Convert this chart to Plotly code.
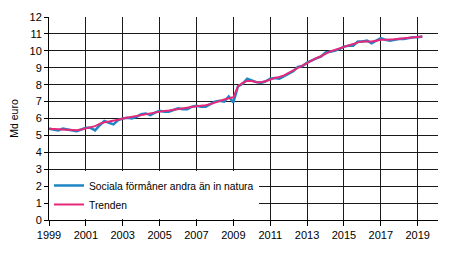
import plotly.graph_objects as go

years = list(range(1999, 2020))
series_by_year = [
    [5.40, 5.35, 5.30, 5.40],
    [5.35, 5.30, 5.25, 5.35],
    [5.45, 5.45, 5.30, 5.60],
    [5.85, 5.75, 5.65, 5.90],
    [6.00, 6.05, 6.00, 6.10],
    [6.25, 6.30, 6.20, 6.35],
    [6.45, 6.40, 6.40, 6.50],
    [6.60, 6.55, 6.55, 6.70],
    [6.75, 6.70, 6.70, 6.85],
    [7.00, 7.05, 7.00, 7.30],
    [6.95, 7.90, 8.05, 8.35],
    [8.25, 8.15, 8.10, 8.20],
    [8.35, 8.40, 8.35, 8.50],
    [8.65, 8.80, 9.05, 9.10],
    [9.30, 9.45, 9.55, 9.65],
    [9.90, 9.95, 10.00, 10.10],
    [10.25, 10.30, 10.30, 10.55],
    [10.55, 10.60, 10.45, 10.60],
    [10.75, 10.65, 10.60, 10.65],
    [10.70, 10.70, 10.75, 10.80],
    [10.80, 10.85],
]
trend_by_year = [
    [5.40, 5.38, 5.35, 5.33],
    [5.30, 5.28, 5.30, 5.35],
    [5.42, 5.48, 5.55, 5.68],
    [5.78, 5.82, 5.85, 5.92],
    [6.00, 6.05, 6.08, 6.15],
    [6.22, 6.27, 6.30, 6.37],
    [6.42, 6.45, 6.47, 6.52],
    [6.57, 6.60, 6.63, 6.68],
    [6.72, 6.73, 6.78, 6.85],
    [6.95, 7.05, 7.12, 7.20],
    [7.25, 7.90, 8.10, 8.22],
    [8.22, 8.15, 8.15, 8.20],
    [8.30, 8.40, 8.45, 8.55],
    [8.70, 8.85, 9.00, 9.15],
    [9.30, 9.45, 9.57, 9.68],
    [9.85, 9.97, 10.05, 10.15],
    [10.25, 10.32, 10.40, 10.50],
    [10.55, 10.55, 10.55, 10.60],
    [10.65, 10.65, 10.65, 10.68],
    [10.72, 10.75, 10.78, 10.80],
    [10.82, 10.85],
]

x, ys, yt = [], [], []
for yr, s, t in zip(years, series_by_year, trend_by_year):
    for q, (a, b) in enumerate(zip(s, t)):
        x.append(yr + q * 0.25)
        ys.append(a)
        yt.append(b)

tick_years = list(range(1999, 2020, 2))

fig = go.Figure()
fig.add_trace(go.Scatter(x=x, y=ys, mode="lines", name="Sociala förmåner andra än in natura",
                         line=dict(color="#1f86c6", width=2.5)))
fig.add_trace(go.Scatter(x=x, y=yt, mode="lines", name="Trenden",
                         line=dict(color="#e5287a", width=2)))

fig.update_layout(
    width=454, height=253,
    margin=dict(l=49, r=16, t=11, b=33),
    paper_bgcolor="white", plot_bgcolor="white",
    font=dict(family="Liberation Sans, Arial, sans-serif", size=11, color="black"),
    showlegend=True,
    legend=dict(x=0, y=0.005, xanchor="left", yanchor="bottom", bgcolor="white",
                font=dict(size=10.3), tracegroupgap=0, itemwidth=30,
                borderwidth=0),
    xaxis=dict(range=[1999, 2020.1], tickvals=tick_years, ticktext=[str(v) for v in tick_years],
               showgrid=True, gridcolor="#1a1a1a", gridwidth=1,
               showline=True, linecolor="black", linewidth=1,
               ticks="outside", ticklen=5, tickcolor="black", zeroline=False),
    yaxis=dict(range=[0, 12], dtick=1, tick0=0,
               showgrid=True, gridcolor="#1a1a1a", gridwidth=1,
               showline=True, linecolor="black", linewidth=1,
               ticks="outside", ticklen=4, tickcolor="black", zeroline=False,
               title=dict(text="Md euro", standoff=8, font=dict(size=10.5))),
)

fig.write_html("out.html")
